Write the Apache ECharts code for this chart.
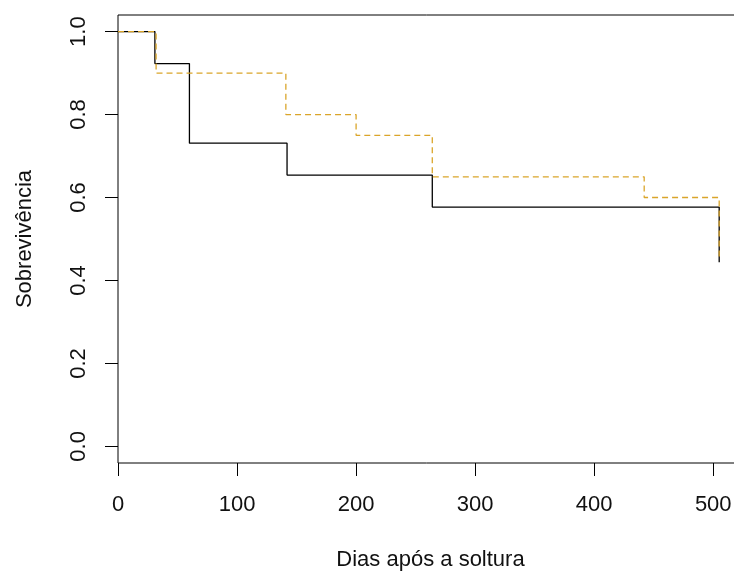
<!DOCTYPE html>
<html>
<head>
<meta charset="utf-8">
<script src="https://cdn.jsdelivr.net/npm/echarts@6/dist/echarts.min.js"></script>
<style>
  html, body { margin: 0; padding: 0; background: #fff; }
  #chart { width: 734px; height: 574px; }
</style>
</head>
<body>
<div id="chart"></div>
<script>
// curva 1 (linha preta)
const tempos1 = [0, 31, 60, 142, 264, 505];
const surv1 = [1.0, 0.923, 0.731, 0.654, 0.577, 0.444];
// curva 2 (tracejada amarela)
const tempos2 = [0, 32, 141, 200, 264, 442, 505];
const surv2 = [1.0, 0.9, 0.8, 0.75, 0.65, 0.6, 0.45];
// marcas dos eixos
const xTicks = [0, 100, 200, 300, 400, 500];
const yTicks = [0, 0.2, 0.4, 0.6, 0.8, 1.0];

(() => {
    let chart = echarts.init(document.getElementById('chart'));
    const font = 'Liberation Sans, Arial, sans-serif';
    let option = {
        animation: false,
        grid: {
            left: 118, top: 15, width: 625, height: 448,
            outerBoundsMode: 'none',
            show: true, borderColor: '#000', borderWidth: 1,
            backgroundColor: 'transparent'
        },
        xAxis: {
            type: 'value',
            min: 0, max: 525,
            name: 'Dias após a soltura',
            nameLocation: 'middle',
            nameGap: 86,
            nameTextStyle: { fontFamily: font, fontSize: 22, color: '#111' },
            axisLine: { show: false, onZero: false },
            splitLine: { show: false },
            axisTick: { show: true, length: 13, lineStyle: { color: '#000' }, customValues: xTicks },
            axisLabel: {
                customValues: xTicks, margin: 31,
                fontFamily: font, fontSize: 22, color: '#111'
            }
        },
        yAxis: {
            type: 'value',
            min: -0.04, max: 1.04,
            name: 'Sobrevivência',
            nameLocation: 'middle',
            nameRotate: 90,
            nameGap: 82,
            nameTextStyle: { fontFamily: font, fontSize: 22, color: '#111' },
            axisLine: { show: false, onZero: false },
            splitLine: { show: false },
            axisTick: { show: true, length: 13, lineStyle: { color: '#000' }, customValues: yTicks },
            axisLabel: {
                customValues: yTicks, margin: 28, rotate: 90,
                formatter: v => v.toFixed(1),
                fontFamily: font, fontSize: 22, color: '#111'
            }
        },
        series: [
            {
                type: 'line',
                step: 'end',
                symbol: 'none',
                data: tempos1.map((t, i) => [t, surv1[i]]),
                lineStyle: { color: '#000', width: 1.3 }
            },
            {
                type: 'line',
                step: 'end',
                symbol: 'none',
                data: tempos2.map((t, i) => [t, surv2[i]]),
                lineStyle: { color: '#DAA52A', width: 1.3, type: [6, 4] }
            }
        ]
    };
    chart.setOption(option);
})();
</script>
</body>
</html>
